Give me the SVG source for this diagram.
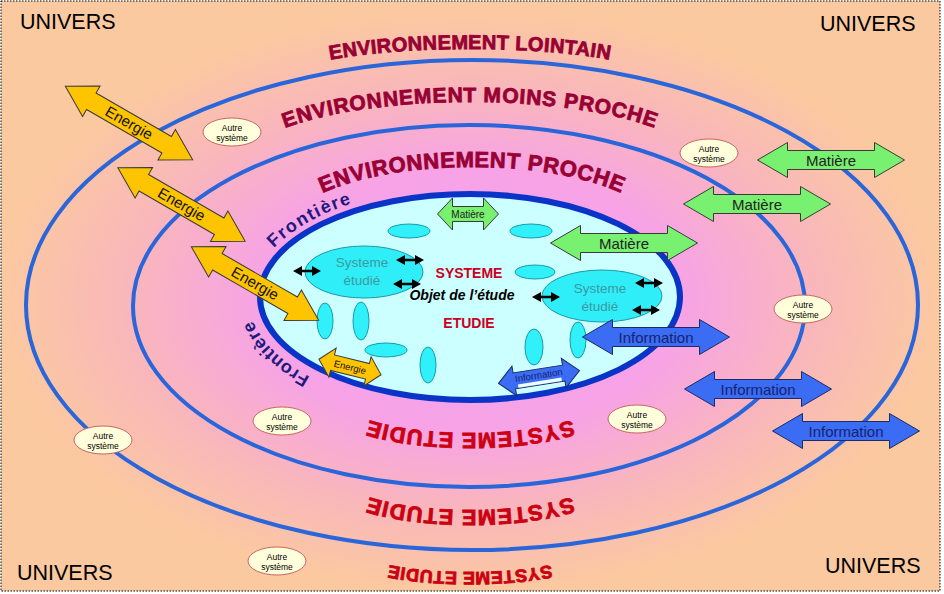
<svg xmlns="http://www.w3.org/2000/svg" xmlns:xlink="http://www.w3.org/1999/xlink" width="944" height="594" viewBox="0 0 944 594">
<style>
.univ{font-family:"Liberation Sans",Arial,sans-serif;font-size:21.5px;fill:#000;}
.env{font-family:"Liberation Sans",Arial,sans-serif;font-weight:bold;fill:#990033;stroke:#990033;stroke-width:0.8;}
.se{font-family:"Liberation Sans",Arial,sans-serif;font-weight:bold;fill:#CC0011;stroke:#CC0011;stroke-width:0.8;}
.front{font-family:"Liberation Sans",Arial,sans-serif;font-weight:bold;font-size:18px;fill:#1E1A7E;}
.ring{fill:none;stroke:#2A66DA;stroke-width:4;}
.en{fill:#FFC400;stroke:#3A3A3A;stroke-width:1;}
.ma{fill:#78F070;stroke:#3A3A3A;stroke-width:1;}
.in{fill:#3A6CF4;stroke:#1E2A66;stroke-width:1;}
.bk{fill:#000;}
.au{fill:#FFFFDC;stroke:#C86464;stroke-width:1;}
.cy{fill:#30F0FA;stroke:#1A9AA8;stroke-width:1;}
.sys{fill:#30EEF8;stroke:#1A9AA8;stroke-width:1;}
.t{font-family:"Liberation Sans",Arial,sans-serif;text-anchor:middle;}
.aut{font-family:"Liberation Sans",Arial,sans-serif;font-size:8.5px;text-anchor:middle;fill:#000;}
.syt{font-family:"Liberation Sans",Arial,sans-serif;font-size:13.5px;text-anchor:middle;fill:#3A9AA0;}
</style>
<defs>
<radialGradient id="bg" gradientUnits="userSpaceOnUse" cx="470" cy="300" r="470" gradientTransform="translate(470,300) scale(1,0.62) translate(-470,-300)">
<stop offset="0" stop-color="#F6A0F2"/>
<stop offset="0.45" stop-color="#F7A3E6"/>
<stop offset="0.72" stop-color="#F9B6BC"/>
<stop offset="1" stop-color="#FBC9A0"/>
</radialGradient>
<path id="big" d="M-73.5,0 L-43.5,-17.5 L-43.5,-9.5 L43.5,-9.5 L43.5,-17.5 L73.5,0 L43.5,17.5 L43.5,9.5 L-43.5,9.5 L-43.5,17.5Z"/>
<path id="smMa" d="M-30.5,0 L-15.5,-16 L-15.5,-7.5 L15.5,-7.5 L15.5,-16 L30.5,0 L15.5,16 L15.5,7.5 L-15.5,7.5 L-15.5,16Z"/>
<path id="smEn" d="M-32,0 L-18,-15 L-18,-8 L18,-8 L18,-15 L32,0 L18,15 L18,8 L-18,8 L-18,15Z"/>
<path id="smIn" d="M-41,0 L-25,-15 L-25,-8 L25,-8 L25,-15 L41,0 L25,15 L25,8 L-25,8 L-25,15Z"/>
<path id="blk" d="M-14,0 L-5,-5 L-5,-1.2 L5,-1.2 L5,-5 L14,0 L5,5 L5,1.2 L-5,1.2 L-5,5Z"/>
<path id="pLoin" d="M270,87 A200 38 0 0 1 670,87"/>
<path id="pMoins" d="M240,166 A230 64 0 0 1 700,166"/>
<path id="pProche" d="M282,235 A190 68 0 0 1 662,235"/>
<path id="pSE1" d="M600,398 A130 35 0 0 1 340,398"/>
<path id="pSE2" d="M600,475 A130 35 0 0 1 340,475"/>
<path id="pSE3" d="M580,550 A110 22 0 0 1 360,550"/>
<path id="pFr1" d="M274,248 A218 111 0 0 1 666,248"/>
<path id="pFr2" d="M310,377 A222 116 0 0 1 248,297"/>
</defs>

<rect x="0" y="0" width="944" height="594" fill="#FFFFFF"/>
<rect x="1" y="1" width="939" height="590" fill="url(#bg)" stroke="#000" stroke-width="1" stroke-dasharray="1.5,1.5"/>

<g id="rings">
<ellipse class="ring" cx="472" cy="305" rx="446" ry="245"/>
<ellipse class="ring" cx="469" cy="306" rx="336" ry="181"/>
</g>

<g id="labels">
<text class="univ" x="20" y="29">UNIVERS</text>
<text class="univ" x="820" y="31">UNIVERS</text>
<text class="univ" x="17" y="580">UNIVERS</text>
<text class="univ" x="825" y="573">UNIVERS</text>
<text class="env" font-size="20" letter-spacing="0.3"><textPath xlink:href="#pLoin" startOffset="50%" text-anchor="middle">ENVIRONNEMENT LOINTAIN</textPath></text>
<text class="env" font-size="21" letter-spacing="0.8"><textPath xlink:href="#pMoins" startOffset="50%" text-anchor="middle">ENVIRONNEMENT MOINS PROCHE</textPath></text>
<text class="env" font-size="22" letter-spacing="0.6"><textPath xlink:href="#pProche" startOffset="50%" text-anchor="middle">ENVIRONNEMENT PROCHE</textPath></text>
<text class="se" font-size="22" letter-spacing="1"><textPath xlink:href="#pSE1" startOffset="50%" text-anchor="middle">SYSTEME ETUDIE</textPath></text>
<text class="se" font-size="22" letter-spacing="1"><textPath xlink:href="#pSE2" startOffset="50%" text-anchor="middle">SYSTEME ETUDIE</textPath></text>
<text class="se" font-size="18" letter-spacing="0.4"><textPath xlink:href="#pSE3" startOffset="50%" text-anchor="middle">SYSTEME ETUDIE</textPath></text>
</g>

<g id="systeme-etudie">
<ellipse cx="470" cy="297" rx="210" ry="103" fill="#CCFFFF" stroke="#0A34C8" stroke-width="6"/>
<text class="front" letter-spacing="1.5"><textPath xlink:href="#pFr1">Frontière</textPath></text>
<text class="front" font-size="17" letter-spacing="0.5"><textPath xlink:href="#pFr2">Frontière</textPath></text>
<text class="t" x="469" y="278" font-size="14" font-weight="bold" fill="#CC0022">SYSTEME</text>
<text class="t" x="462" y="300" font-size="14" font-weight="bold" font-style="italic" fill="#000">Objet de l’étude</text>
<text class="t" x="469" y="328" font-size="14" font-weight="bold" fill="#CC0022">ETUDIE</text>
</g>

<g id="elements">
<ellipse class="cy" cx="409" cy="231" rx="21" ry="7"/>
<ellipse class="cy" cx="531" cy="231" rx="21" ry="7"/>
<ellipse class="cy" cx="535" cy="272" rx="20" ry="7"/>
<ellipse class="cy" cx="325" cy="321" rx="8" ry="18"/>
<ellipse class="cy" cx="361" cy="321" rx="8" ry="19"/>
<ellipse class="cy" cx="386" cy="350" rx="21" ry="7"/>
<ellipse class="cy" cx="428" cy="365" rx="8" ry="18"/>
<ellipse class="cy" cx="534" cy="347" rx="9" ry="18"/>
<ellipse class="cy" cx="578" cy="340" rx="8" ry="18"/>
</g>

<g id="sous-systeme-1">
<ellipse class="sys" cx="364" cy="272" rx="59" ry="26"/>
<text class="syt" x="362" y="267">Systeme</text>
<text class="syt" x="362" y="285">étudié</text>
</g>
<g id="sous-systeme-2">
<ellipse class="sys" cx="602" cy="296" rx="60" ry="26"/>
<text class="syt" x="600" y="293">Systeme</text>
<text class="syt" x="600" y="311">étudié</text>
</g>

<g id="autres-systemes">
<g id="autre1"><ellipse class="au" cx="232" cy="132" rx="29" ry="14"/><text class="aut" x="232" y="131">Autre</text><text class="aut" x="232" y="140.5">système</text></g>
<g id="autre2"><ellipse class="au" cx="709" cy="153" rx="29" ry="14"/><text class="aut" x="709" y="152">Autre</text><text class="aut" x="709" y="161.5">système</text></g>
<g id="autre3"><ellipse class="au" cx="803" cy="309" rx="29" ry="14"/><text class="aut" x="803" y="308">Autre</text><text class="aut" x="803" y="317.5">système</text></g>
<g id="autre4"><ellipse class="au" cx="637" cy="419" rx="29" ry="14"/><text class="aut" x="637" y="418">Autre</text><text class="aut" x="637" y="427.5">système</text></g>
<g id="autre5"><ellipse class="au" cx="282" cy="421" rx="29" ry="14"/><text class="aut" x="282" y="420">Autre</text><text class="aut" x="282" y="429.5">système</text></g>
<g id="autre6"><ellipse class="au" cx="103" cy="440" rx="29" ry="14"/><text class="aut" x="103" y="439">Autre</text><text class="aut" x="103" y="448.5">système</text></g>
<g id="autre7"><ellipse class="au" cx="277" cy="561" rx="29" ry="14"/><text class="aut" x="277" y="560">Autre</text><text class="aut" x="277" y="569.5">système</text></g>
</g>

<g id="connectors">
<g transform="translate(129,123) rotate(30)"><use xlink:href="#big" class="en"/><text class="t" y="5" font-size="15" fill="#111">Energie</text></g>
<g transform="translate(181.5,204.5) rotate(30)"><use xlink:href="#big" class="en"/><text class="t" y="5" font-size="15" fill="#111">Energie</text></g>
<g transform="translate(255,283.5) rotate(30)"><use xlink:href="#big" class="en"/><text class="t" y="5" font-size="15" fill="#111">Energie</text></g>
<g transform="translate(350,367) rotate(14)"><use xlink:href="#smEn" class="en"/><text class="t" y="3.5" font-size="9.5" fill="#111">Energie</text></g>

<g transform="translate(468,214)"><use xlink:href="#smMa" class="ma"/><text class="t" y="3.5" font-size="10" fill="#222">Matière</text></g>
<g transform="translate(624,243)"><use xlink:href="#big" class="ma"/><text class="t" y="5.5" font-size="15" fill="#222">Matière</text></g>
<g transform="translate(757,204)"><use xlink:href="#big" class="ma"/><text class="t" y="5.5" font-size="15" fill="#222">Matière</text></g>
<g transform="translate(831,160)"><use xlink:href="#big" class="ma"/><text class="t" y="5.5" font-size="15" fill="#222">Matière</text></g>

<g transform="translate(656,337)"><use xlink:href="#big" class="in"/><text class="t" y="5.5" font-size="15" fill="#18236E">Information</text></g>
<g transform="translate(758,389)"><use xlink:href="#big" class="in"/><text class="t" y="5.5" font-size="15" fill="#18236E">Information</text></g>
<g transform="translate(846,431)"><use xlink:href="#big" class="in"/><text class="t" y="5.5" font-size="15" fill="#18236E">Information</text></g>
<g transform="translate(539,377) rotate(-9)"><use xlink:href="#smIn" class="in"/><rect x="-22" y="4" width="44" height="3.5" fill="#EEFFFF"/><text class="t" y="1.5" font-size="9.6" fill="#18236E">Information</text></g>

<use xlink:href="#blk" class="bk" transform="translate(307,271)"/>
<use xlink:href="#blk" class="bk" transform="translate(410,260)"/>
<use xlink:href="#blk" class="bk" transform="translate(407,284)"/>
<use xlink:href="#blk" class="bk" transform="translate(546,297)"/>
<use xlink:href="#blk" class="bk" transform="translate(649,283)"/>
<use xlink:href="#blk" class="bk" transform="translate(646,310)"/>
</g>
</svg>
